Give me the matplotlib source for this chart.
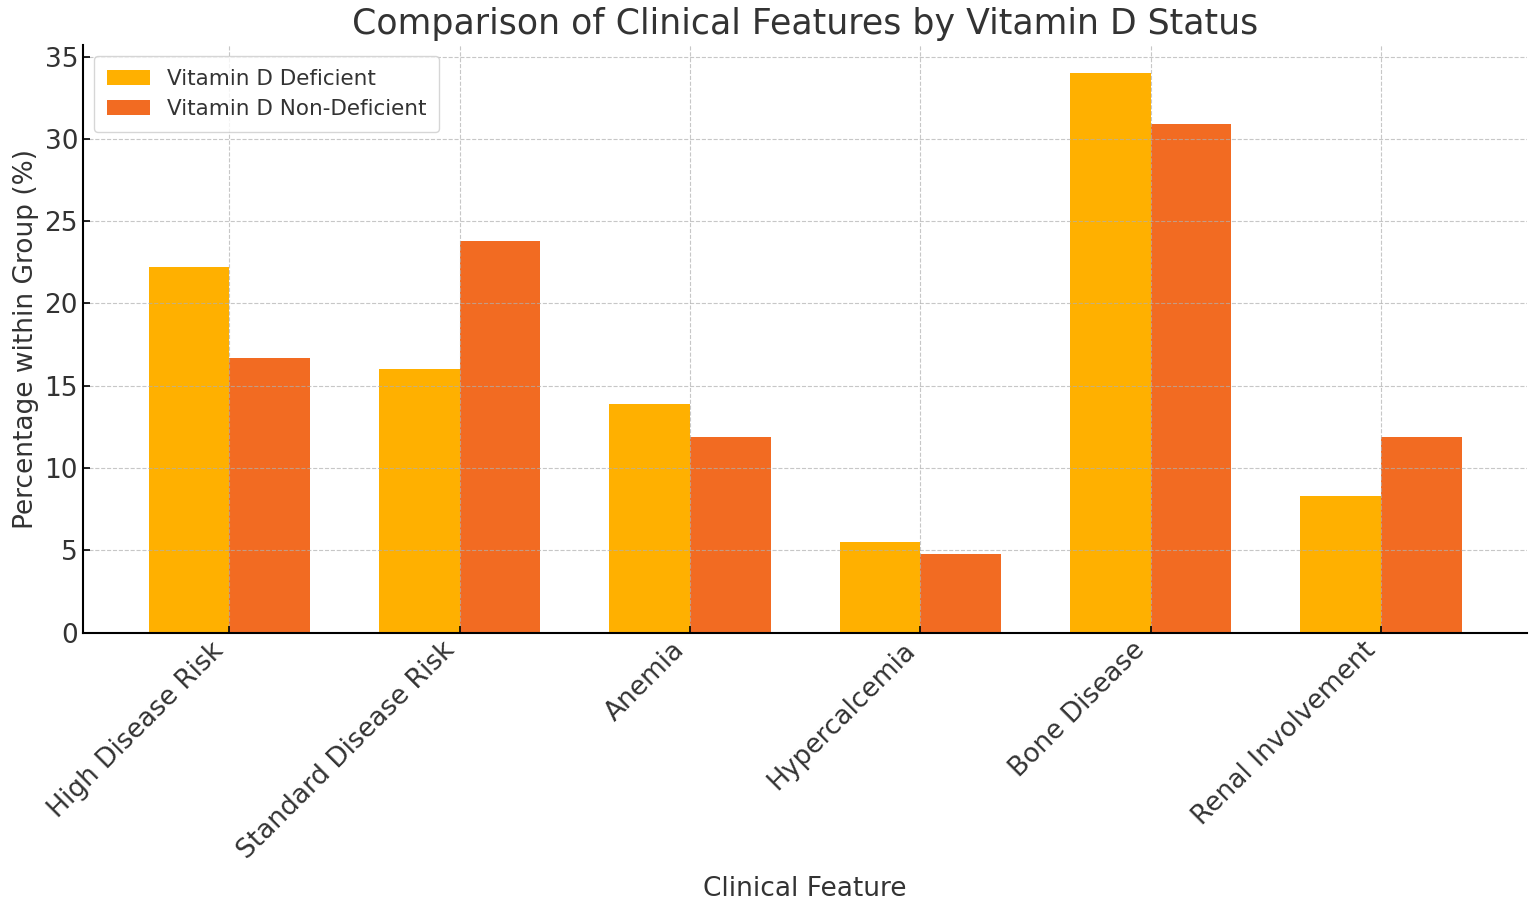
import matplotlib
matplotlib.use("Agg")
import matplotlib.pyplot as plt
import numpy as np

features = ["High Disease Risk", "Standard Disease Risk", "Anemia",
            "Hypercalcemia", "Bone Disease", "Renal Involvement"]
deficient = [22.2, 16.0, 13.9, 5.5, 34.0, 8.3]
non_deficient = [16.7, 23.8, 11.9, 4.8, 30.9, 11.9]

txt = "#333333"
plt.rcParams["font.family"] = "DejaVu Sans"

fig, ax = plt.subplots(figsize=(15.35, 9.01), dpi=100)
x = np.arange(len(features))
w = 0.35

ax.bar(x - w / 2, deficient, w, color="#FFB000", label="Vitamin D Deficient")
ax.bar(x + w / 2, non_deficient, w, color="#F26B22", label="Vitamin D Non-Deficient")

ax.set_title("Comparison of Clinical Features by Vitamin D Status", fontsize=25, color=txt, pad=8)
ax.set_xlabel("Clinical Feature", fontsize=19, color=txt, labelpad=8)
ax.set_ylabel("Percentage within Group (%)", fontsize=19, color=txt)
ax.set_xticks(x)
ax.set_xticklabels(features, rotation=45, ha="right", fontsize=19, color=txt)
ax.tick_params(axis="y", labelsize=19, labelcolor=txt)
ax.tick_params(direction="in", length=5, width=1.2)

ax.grid(True, linestyle="--", color="#b0b0b0", alpha=0.7)
ax.spines["top"].set_visible(False)
ax.spines["right"].set_visible(False)
ax.spines["left"].set_linewidth(1.5)
ax.spines["bottom"].set_linewidth(1.5)

ax.legend(loc="upper left", fontsize=15.5, labelcolor=txt, handlelength=2.0,
          borderpad=0.6, framealpha=0.8)

fig.subplots_adjust(left=0.054, right=0.995, top=0.95, bottom=0.298)
fig.savefig("out.png", dpi=100)
